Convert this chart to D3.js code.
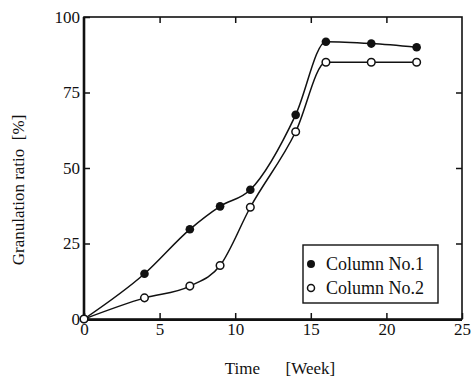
<!DOCTYPE html>
<html>
<head>
<meta charset="utf-8">
<script src="https://cdn.jsdelivr.net/npm/d3@7"></script>
<style>
  body { margin: 0; background: #fff; }
  svg text { font-family: "Liberation Serif", "DejaVu Serif", serif !important; fill: #111; }
  .axis path, .axis line { stroke: #111; }
</style>
</head>
<body>
<svg id="chart" width="471" height="383"></svg>
<script>
// values
const weeks = [0, 4, 7, 9, 11, 14, 16, 19, 22]
const column1 = [0, 15, 29.7, 37.3, 42.8, 67.6, 91.8, 91.2, 90]
const column2 = [0, 7, 10.9, 17.7, 37, 62, 85, 85, 85]
const xTicks = [0, 5, 10, 15, 20, 25]
const yTicks = [0, 25, 50, 75, 100]
const seriesNames = ['Column No.1', 'Column No.2']

const svg = d3.select('#chart')
const plotLeft = 84, plotRight = 462, plotTop = 17, plotBottom = 319
const serif = 'Liberation Serif'

const x = d3.scaleLinear().domain([0, 25]).range([plotLeft, plotRight])
const y = d3.scaleLinear().domain([0, 100]).range([plotBottom, plotTop])

// frame
svg.append('rect')
  .attr('x', plotLeft).attr('y', plotTop)
  .attr('width', plotRight - plotLeft).attr('height', plotBottom - plotTop)
  .attr('fill', 'none').attr('stroke', '#111').attr('stroke-width', 1.6)
svg.append('line').attr('x1', plotLeft).attr('x2', plotLeft).attr('y1', plotTop).attr('y2', plotBottom + 1)
  .attr('stroke', '#111').attr('stroke-width', 2.6)
svg.append('line').attr('x1', plotLeft).attr('x2', plotRight).attr('y1', plotBottom + 1).attr('y2', plotBottom + 1)
  .attr('stroke', '#111').attr('stroke-width', 2.2)

const tickFont = 17

svg.append('g')
  .attr('class', 'axis')
  .attr('transform', `translate(${plotLeft},0)`)
  .call(d3.axisLeft(y).tickValues(yTicks).tickSizeInner(-6).tickSizeOuter(0).tickPadding(4))
  .attr('font-family', serif)
  .call(g => g.select('.domain').remove())
  .call(g => g.selectAll('line').attr('stroke-width', 1.5))
  .call(g => g.selectAll('text').style('font-size', tickFont + 'px').style('font-family', serif).attr('fill', '#111'))

svg.append('g')
  .attr('class', 'axis')
  .attr('transform', `translate(0,${plotBottom})`)
  .call(d3.axisBottom(x).tickValues(xTicks).tickSizeInner(-6).tickSizeOuter(0).tickPadding(4))
  .attr('font-family', serif)
  .call(g => g.select('.domain').remove())
  .call(g => g.selectAll('line').attr('stroke-width', 1.5))
  .call(g => g.selectAll('text').style('font-size', tickFont + 'px').style('font-family', serif).attr('fill', '#111'))

svg.append('g')
  .attr('class', 'axis')
  .attr('transform', `translate(${plotRight},0)`)
  .call(d3.axisRight(y).tickValues(yTicks.slice(1, -1)).tickSizeInner(-6).tickSizeOuter(0).tickFormat(''))
  .call(g => g.select('.domain').remove())
  .call(g => g.selectAll('line').attr('stroke-width', 1.5))

svg.append('g')
  .attr('class', 'axis')
  .attr('transform', `translate(0,${plotTop})`)
  .call(d3.axisTop(x).tickValues(xTicks.slice(1, -1)).tickSizeInner(-6).tickSizeOuter(0).tickFormat(''))
  .call(g => g.select('.domain').remove())
  .call(g => g.selectAll('line').attr('stroke-width', 1.5))

// curves
const line = d3.line()
  .x((d, i) => x(weeks[i]))
  .y(d => y(d))
  .curve(d3.curveMonotoneX)

svg.append('path').datum(column1)
  .attr('d', line).attr('fill', 'none').attr('stroke', '#111').attr('stroke-width', 1.5)
svg.append('path').datum(column2)
  .attr('d', line).attr('fill', 'none').attr('stroke', '#111').attr('stroke-width', 1.5)

svg.append('g').selectAll('circle')
  .data(column1).enter().append('circle')
  .attr('cx', (d, i) => x(weeks[i])).attr('cy', d => y(d))
  .attr('r', 4.3).attr('fill', '#111')

svg.append('g').selectAll('circle')
  .data(column2).enter().append('circle')
  .attr('cx', (d, i) => x(weeks[i])).attr('cy', d => y(d))
  .attr('r', 3.8).attr('fill', '#fff').attr('stroke', '#111').attr('stroke-width', 1.5)

// legend
const legend = svg.append('g')
legend.append('rect')
  .attr('x', 303).attr('y', 245).attr('width', 135).attr('height', 58)
  .attr('fill', '#fff').attr('stroke', '#111').attr('stroke-width', 1.4)

seriesNames.forEach((name, i) => {
  const ly = 264 + i * 24
  legend.append('circle')
    .attr('cx', 311).attr('cy', ly)
    .attr('r', i === 0 ? 4 : 3.5)
    .attr('fill', i === 0 ? '#111' : '#fff')
    .attr('stroke', '#111').attr('stroke-width', i === 0 ? 0 : 1.5)
  legend.append('text')
    .attr('x', 326).attr('y', ly + 6)
    .style('font-size', '18px')
    .text(name)
})

// labels
svg.append('text')
  .attr('x', 280).attr('y', 374)
  .attr('text-anchor', 'middle')
  .style('font-size', '17px')
  .style('white-space', 'pre')
  .text('Time      [Week]')

svg.append('text')
  .attr('transform', 'translate(24,190) rotate(-90)')
  .attr('text-anchor', 'middle')
  .style('font-size', '17px')
  .style('white-space', 'pre')
  .text('Granulation ratio  [%]')
</script>
</body>
</html>
